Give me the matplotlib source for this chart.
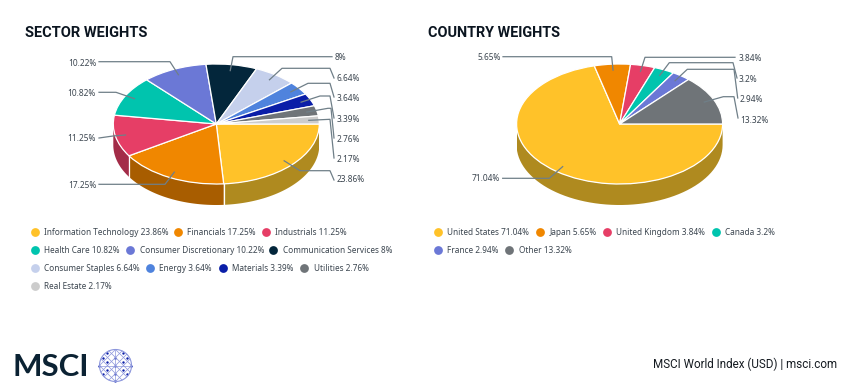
import numpy as np
import matplotlib
matplotlib.use("Agg")
import matplotlib.pyplot as plt

W, H = 850, 389

sector_names = ["Information Technology", "Financials", "Industrials", "Health Care",
                "Consumer Discretionary", "Communication Services", "Consumer Staples",
                "Energy", "Materials", "Utilities", "Real Estate"]
sector_values = [23.86, 17.25, 11.25, 10.82, 10.22, 8, 6.64, 3.64, 3.39, 2.76, 2.17]
sector_colors = ["#FFC229", "#F08700", "#E63E66", "#00C4AE", "#6B78D6", "#03263B",
                 "#C5D0EC", "#4F83DD", "#0A1EA8", "#6F7478", "#CCCCCC"]
sector_legend_x = [[34.7, 178, 266], [34.7, 130.5, 273.5], [34.7, 150, 223, 304.5], [34.7]]

country_names = ["United States", "Japan", "United Kingdom", "Canada", "France", "Other"]
country_values = [71.04, 5.65, 3.84, 3.2, 2.94, 13.32]
country_colors = ["#FFC229", "#F08700", "#E63E66", "#00C4AE", "#6B78D6", "#6F7478"]
country_legend_x = [[438, 540, 607, 716], [438, 509.5]]

wall_colors = {"#FFC229": "#AF8A1F", "#F08700": "#A85D00", "#E63E66": "#A32C48"}

# leader lines: elbow points after the slice anchor, then label x, y, alignment
sector_leaders = [
    ([(300, 170.7), (330, 170.7), (334, 180)], 336.7, 179.5, "left"),
    ([(165, 184.3), (99, 184.3)], 96.7, 185, "right"),
    ([(113, 136), (99, 138)], 95.5, 138.5, "right"),
    ([(116, 92.3), (99, 92.3)], 96, 93, "right"),
    ([(170, 61.7), (99, 61.7)], 97, 63, "right"),
    ([(233, 56.7), (332, 56.7)], 335, 57.5, "left"),
    ([(282, 68.3), (330, 68.3), (334, 78)], 336.5, 78, "left"),
    ([(308, 83.3), (330, 83.3), (334, 97)], 336.5, 98.5, "left"),
    ([(320, 96), (330, 96), (334, 118)], 336.5, 119, "left"),
    ([(328, 108.3), (331, 108.3), (334, 138)], 336.5, 139, "left"),
    ([(330, 119.3), (334, 158)], 336.5, 159.5, "left"),
]
country_leaders = [
    ([(549.3, 178.3), (502.7, 178.3)], 499.5, 178.5, "right"),
    ([(611.7, 56.7), (503, 56.7)], 500.5, 57.5, "right"),
    ([(645, 57.3), (735, 57.3)], 739, 58.5, "left"),
    ([(669.3, 62.7), (733, 62.7), (737, 78)], 739, 79, "left"),
    ([(687.3, 69.3), (734, 69.3), (737.7, 98)], 739.5, 99.5, "left"),
    ([(723.3, 96.7), (734, 96.7), (738, 118)], 740.5, 120, "left"),
]

RX, RY, DEPTH = 103, 60, 21
TEXT = "#3C4650"
LINE = "#6F7F88"

plt.rcParams["font.family"] = ["Noto Sans", "DejaVu Sans"]
fig = plt.figure(figsize=(W / 100, H / 100), dpi=100, facecolor="white")

# overlay in pixel coordinates for labels, legends, logo
page = fig.add_axes([0, 0, 1, 1], zorder=3)
page.set_xlim(0, W)
page.set_ylim(H, 0)
page.axis("off")


def draw_pie(cx, cy, values, colors, leaders):
    ax = fig.add_axes([(cx - RX) / W, 1 - (cy + RY + DEPTH) / H,
                       2 * RX / W, (2 * RY + DEPTH) / H], zorder=1)
    ax.pie(values, colors=colors, startangle=0, counterclock=False, radius=1,
           wedgeprops=dict(edgecolor="white", linewidth=0.9), normalize=True)
    ax.set_aspect("auto")
    ax.set_xlim(-1, 1)
    ax.set_ylim(-1 - DEPTH / RY, 1)
    ax.axis("off")

    edges = np.cumsum([0] + list(values)) / np.sum(values) * 2 * np.pi
    d = DEPTH / RY
    # outer wall, only the front half can be seen
    for a0, a1, col in zip(edges[:-1], edges[1:], colors):
        a1 = min(a1, np.pi)
        if a0 >= np.pi:
            continue
        t = np.linspace(a0, a1, 60)
        xs = np.r_[np.cos(t), np.cos(t[::-1])]
        ys = np.r_[-np.sin(t), -np.sin(t[::-1]) - d]
        ax.fill(xs, ys, color=wall_colors[col], lw=0, zorder=-1)
        if a1 < np.pi:
            ax.plot([np.cos(a1)] * 2, [-np.sin(a1), -np.sin(a1) - d], color="white", lw=0.9, zorder=0)

    mids = (edges[:-1] + edges[1:]) / 2
    for val, mid, (pts, tx, ty, ha) in zip(values, mids, leaders):
        start = (cx + 0.9 * RX * np.cos(mid), cy + 0.9 * RY * np.sin(mid))
        xs, ys = zip(*([start] + pts))
        page.plot(xs, ys, color=LINE, lw=0.9, solid_joinstyle="round")
        page.text(tx, ty, f"{val:g}%", ha=ha, va="center", fontsize=6.0, color=TEXT)


def draw_legend(names, values, colors, xs, y0):
    i = 0
    for r, row in enumerate(xs):
        y = y0 + r * 18
        for x in row:
            page.scatter([x], [y], s=40, color=colors[i], lw=0)
            page.text(x + 9.3, y + 0.3, f"{names[i]} {values[i]:g}%", va="center",
                      fontsize=5.95, color=TEXT)
            i += 1


draw_pie(216.3, 124, sector_values, sector_colors, sector_leaders)
draw_pie(619.6, 124, country_values, country_colors, country_leaders)
draw_legend(sector_names, sector_values, sector_colors, sector_legend_x, 232)
draw_legend(country_names, country_values, country_colors, country_legend_x, 232)

page.text(25.5, 33, "SECTOR WEIGHTS", family="Roboto", weight="bold", fontsize=10.5,
          color="#0B1520", va="center")
page.text(428.5, 33, "COUNTRY WEIGHTS", family="Roboto", weight="bold", fontsize=10.4,
          color="#0B1520", va="center")
page.text(837, 364, "MSCI World Index (USD) | msci.com", family="Roboto", fontsize=8.35,
          color="#141A20", ha="right", va="center")

# logo
page.text(13, 376, "MSCI", family="Lato", weight="bold", fontsize=22.5, color="#0B2233", va="baseline")
gx, gy, gr = 115.5, 365.5, 16
t = np.linspace(0, 2 * np.pi, 100)
page.plot(gx + gr * np.cos(t), gy + gr * np.sin(t), color="#8C96DC", lw=0.8)
for k in [-16, -8, 0, 8, 16]:
    # distance of the chord from the centre, along both diagonals and the axes
    dist = abs(k) / np.sqrt(2)
    half = np.sqrt(gr ** 2 - dist ** 2) / np.sqrt(2)
    mx, my = k / 2, k / 2
    page.plot([gx + mx - half, gx + mx + half], [gy + my + half, gy + my - half], color="#8C96DC", lw=0.5)
    page.plot([gx + mx - half, gx + mx + half], [gy - my - half, gy - my + half], color="#8C96DC", lw=0.5)
page.plot([gx - gr, gx + gr], [gy, gy], color="#8C96DC", lw=0.5)
page.plot([gx, gx], [gy - gr, gy + gr], color="#8C96DC", lw=0.5)
nodes = [(-8, -13), (8, -13), (-12, -8), (0, -8), (12, -8), (-8, -4), (8, -4), (-16, 0),
         (0, 0), (16, 0), (-8, 4), (8, 4), (-12, 8), (0, 8), (12, 8), (0, 15)]
page.scatter([gx + n[0] for n in nodes], [gy + n[1] for n in nodes], s=3, color="#0A1EA8", lw=0)

fig.savefig("out.png", dpi=100, facecolor="white")
